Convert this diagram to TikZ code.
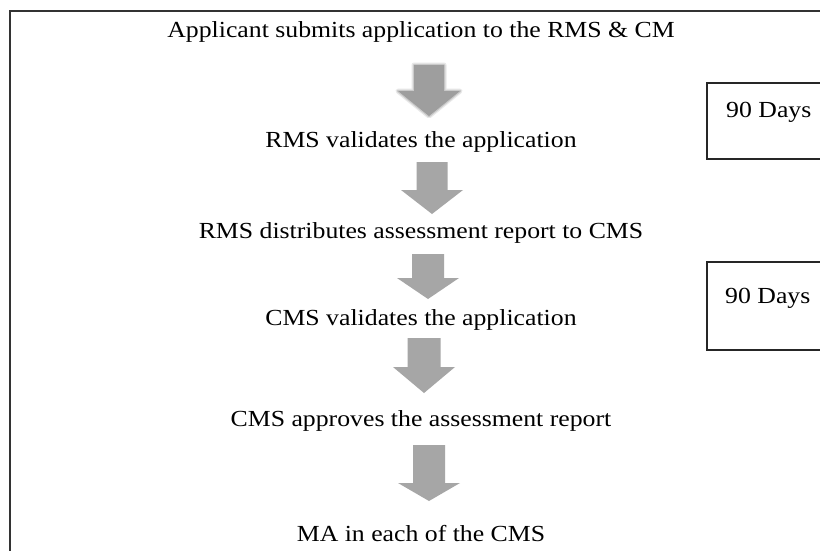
\documentclass[tikz,border=0pt]{standalone}
\usepackage{fontspec}
\setmainfont[FakeStretch=1.12]{Liberation Serif}
\begin{document}
\begin{tikzpicture}[x=1pt,y=-1pt,
  lbl/.style={anchor=base,inner sep=0pt,font=\fontsize{23}{28}\selectfont},
  frame/.style={draw=black!80,line width=1.8pt},
  daybox/.style={draw=black!85,line width=1.4pt},
  blockarrow/.style={fill=black!35,draw=none},
  blurA/.style={draw=black!35,line width=5pt,line join=round,opacity=0.25},
  blurB/.style={draw=black!35,line width=2.5pt,line join=round,opacity=0.45},
  blurC/.style={fill=black!38,draw=none}]
\useasboundingbox (0,0) rectangle (820,550);
\clip (0,0) rectangle (820,550);
\fill[white] (0,0) rectangle (820,550);
\draw[frame] (10,600) -- (10,11) -- (840,11);

% texts
\node[lbl] (t1) at (421,37) {Applicant submits application to the RMS \& CM};
\node[lbl] (t2) at (421,147) {RMS validates the application};
\node[lbl] (t3) at (421,238) {RMS distributes assessment report to CMS};
\node[lbl] (t4) at (421,325) {CMS validates the application};
\node[lbl] (t5) at (421,426) {CMS approves the assessment report};
\node[lbl] (t6) at (421,541) {MA in each of the CMS};

% 90 days boxes
\draw[daybox] (850,83) -- (707,83) -- (707,159) -- (850,159);
\node[lbl,anchor=base west] (d1) at (726,117) {90 Days};
\draw[daybox] (850,262) -- (707,262) -- (707,350) -- (850,350);
\node[lbl,anchor=base west] (d2) at (725,303) {90 Days};

% arrows: cx, top, headstart, tip, shaft width, style, name
\newcommand\myarrow[7]{%
  \coordinate (#7) at (#1,#2);
  \path[#6] (#1-#5/2,#2) -- (#1+#5/2,#2) -- (#1+#5/2,#3) -- (#1+31,#3)
     -- (#1,#4) -- (#1-31,#3) -- (#1-#5/2,#3) -- cycle;}
\myarrow{429}{65}{91}{116}{30}{blurA}{a1}
\myarrow{429}{65}{91}{116}{30}{blurB}{a1}
\myarrow{429}{65}{91}{116}{30}{blurC}{a1}
\myarrow{432}{162}{190}{214}{31}{blockarrow}{a2}
\myarrow{428}{254}{278}{299}{32}{blockarrow}{a3}
\myarrow{424}{338}{367}{393}{33}{blockarrow}{a4}
\myarrow{429}{445}{483}{501}{32}{blockarrow}{a5}
\end{tikzpicture}
\end{document}
